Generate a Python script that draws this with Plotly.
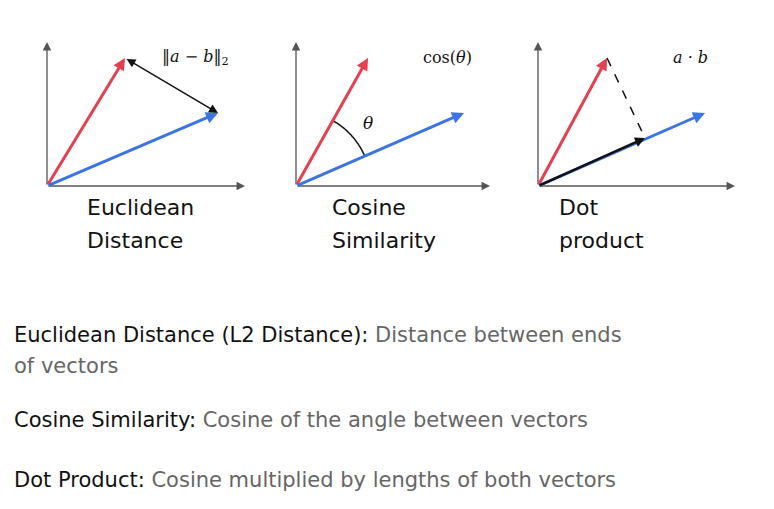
import numpy as np
import plotly.graph_objects as go

# panel geometry (pixel space)
origins_x = [47, 296, 538]
origin_y = 186
axis_top = 42
axis_right = [245, 490, 735]
red_tip = [(125, 58), (368, 58), (607, 58)]
blue_tip = [(218, 113), (464, 113), (705, 113)]
proj_pt = (645, 138)
titles = [["Euclidean", "Distance"], ["Cosine", "Similarity"], ["Dot", "product"]]
title_x = [85, 330, 557]
formulas = ["‖<i>a</i> − <i>b</i>‖<sub>2</sub>", "cos(<i>θ</i>)", "<i>a</i> · <i>b</i>"]
formula_x = [195, 447, 690]
desc_bold = ["Euclidean Distance (L2 Distance):", "Cosine Similarity:", "Dot Product:"]
desc_rest = [" Distance between ends", " Cosine of the angle between vectors", " Cosine multiplied by lengths of both vectors"]
desc_y = [335, 420, 480]

RED = "#e5404f"
BLUE = "#3d74e3"
AX = "#555555"
FONT = "DejaVu Sans"
OFF = 8  # page body margin

fig = go.Figure()
fig.add_trace(go.Scatter(x=[100], y=[100], mode="markers", marker=dict(opacity=0), hoverinfo="skip"))

ann = []
shapes = []

def arrow(x0, y0, x1, y1, color, width=2.5, side="end", head=2, size=1):
    ann.append(dict(x=x1, y=y1, ax=x0, ay=y0, xref="x", yref="y", axref="x", ayref="y",
                    showarrow=True, arrowhead=head, arrowsize=size, arrowwidth=width,
                    arrowcolor=color, arrowside=side, startarrowhead=head, startarrowsize=size, text=""))

for i in range(3):
    ox = origins_x[i]
    arrow(ox, origin_y, ox, axis_top, AX, 1.3, size=1.3)
    arrow(ox, origin_y, axis_right[i], origin_y, AX, 1.3, size=1.3)
    arrow(ox, origin_y, *red_tip[i], RED, 3, size=0.8)
    arrow(ox, origin_y, *blue_tip[i], BLUE, 3, size=0.8)
    for j, t in enumerate(titles[i]):
        ann.append(dict(x=title_x[i], y=207 + 33 * j, xref="x", yref="y", text=t, showarrow=False,
                        xanchor="left", font=dict(family=FONT, size=22, color="#111")))
    ann.append(dict(x=formula_x[i], y=57, xref="x", yref="y", text=formulas[i], showarrow=False,
                    font=dict(family="DejaVu Serif", size=16, color="#111")))

# panel 1: difference vector
arrow(*red_tip[0], *blue_tip[0], "#111", 1.5, side="end+start", size=1.2)

# panel 2: angle arc
ox = origins_x[1]
a1 = np.arctan2(origin_y - red_tip[1][1], red_tip[1][0] - ox)
a2 = np.arctan2(origin_y - blue_tip[1][1], blue_tip[1][0] - ox)
r = 75
ts = np.linspace(a1, a2, 30)
path = "M " + " L ".join(f"{ox + r*np.cos(t):.1f},{origin_y - r*np.sin(t):.1f}" for t in ts)
shapes.append(dict(type="path", path=path, xref="x", yref="y", line=dict(color="#111", width=1.5)))
ann.append(dict(x=368, y=123, xref="x", yref="y", text="<i>θ</i>", showarrow=False,
                font=dict(family="DejaVu Serif", size=17, color="#111")))

# panel 3: projection
shapes.append(dict(type="line", x0=red_tip[2][0], y0=red_tip[2][1], x1=proj_pt[0], y1=proj_pt[1],
                   xref="x", yref="y", line=dict(color="#111", width=1.5, dash="dash")))
arrow(origins_x[2], origin_y, *proj_pt, "#111", 2.5, size=0.8)

# description text
for k in range(3):
    ann.append(dict(x=12, y=desc_y[k], xref="x", yref="y", xanchor="left", showarrow=False,
                    text=f"<span style='color:#111'>{desc_bold[k]}</span><span style='color:#666'>{desc_rest[k]}</span>",
                    font=dict(family=FONT, size=21)))
ann.append(dict(x=12, y=366, xref="x", yref="y", xanchor="left", showarrow=False, text="of vectors",
                font=dict(family=FONT, size=21, color="#666")))

fig.update_layout(width=774, height=509, margin=dict(l=0, r=0, t=0, b=0),
                  plot_bgcolor="white", paper_bgcolor="white", showlegend=False,
                  annotations=ann, shapes=shapes,
                  xaxis=dict(range=[OFF, 774 + OFF], visible=False, fixedrange=True),
                  yaxis=dict(range=[509 + OFF, OFF], visible=False, fixedrange=True))
fig.write_html("out.html")
